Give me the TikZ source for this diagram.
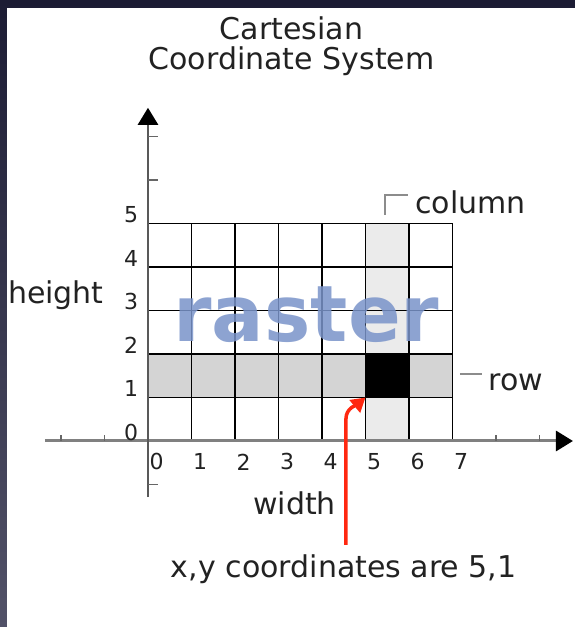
\documentclass[tikz,border=0pt]{standalone}
\usepackage{fontspec}
\setmainfont{DejaVu Sans}
\usetikzlibrary{arrows.meta}
\definecolor{navy}{RGB}{28,28,52}
\definecolor{navylow}{RGB}{82,82,104}
\definecolor{rastblue}{RGB}{122,148,202}
\definecolor{rowgray}{RGB}{212,212,212}
\definecolor{colgray}{RGB}{235,235,235}
\definecolor{ptred}{RGB}{255,40,16}
\definecolor{inkgray}{RGB}{34,34,34}

\begin{document}
\begin{tikzpicture}[x=43.5pt,y=43.5pt,
    lbl/.style={font=\fontsize{30}{36}\selectfont, text=inkgray, inner sep=0pt},
    num/.style={font=\fontsize{22}{26}\selectfont, text=inkgray, inner sep=0pt},
    gridline/.style={black, line width=1.4pt},
    tickmark/.style={black!60, line width=1.2pt},
    callout/.style={black!45, line width=1.2pt}]
    % Frame
    \useasboundingbox (-3.402,-4.276) rectangle (9.816,10.138);
    \shade[top color=navy, bottom color=navylow] (-3.402,-4.276) rectangle (9.816,10.138);
    \fill[white] (-3.241,-4.276) rectangle (9.816,9.954);

    % Title
    \node[lbl, anchor=base] (title1) at (3.3,9.22) {Cartesian};
    \node[lbl, anchor=base] (title2) at (3.3,8.53) {Coordinate System};

    % Raster cells
    \fill[rowgray] (0,1) rectangle (7,2);
    \fill[colgray] (5,0) rectangle (6,5);
    \fill[black] (5,1) rectangle (6,2);

    % Grid
    \foreach \i in {0,...,7} \draw[gridline] (\i,0) -- (\i,5);
    \foreach \j in {1,...,5} \draw[gridline] (0,\j) -- (7,\j);
    \node[font=\fontsize{78}{80}\selectfont\bfseries, text=rastblue, text opacity=0.85,
        anchor=base, inner sep=0pt] (raster) at (3.64,2.28) {raster};

    % Axes
    \draw[black!50, line width=3pt, -{Triangle[length=17pt,width=20pt,color=black]}] (-2.37,0) -- (9.77,0);
    \draw[black!65, line width=2.5pt, -{Triangle[length=17pt,width=20pt,color=black]}] (0,-1.29) -- (0,7.66);
    \foreach \i in {-2,-1,8,9} \draw[tickmark] (\i,0) -- ++(0,6pt);
    \foreach \j in {-1,6,7} \draw[tickmark] (0,\j) -- ++(10pt,0);

    % Axis numbers
    \foreach \k in {0,...,5} \node[num] (ylab\k) at (-0.39,\k+0.2) {\k};
    \foreach \k in {0,...,7} \node[num] (xlab\k) at (\k+0.2,-0.48) {\k};

    % Labels
    \node[lbl, anchor=base west] (height) at (-3.22,3.17) {height};
    \node[lbl, anchor=base] (width) at (3.37,-1.68) {width};
    \node[lbl, anchor=base west] (column) at (6.14,5.24) {column};
    \node[lbl, anchor=base west] (row) at (7.82,1.17) {row};
    \node[lbl, anchor=base] (caption) at (4.5,-3.13) {x,y coordinates are 5,1};

    % Callout marks
    \coordinate (colfoot) at (5.45,5.2);
    \coordinate (rowfoot) at (7.17,1.54);
    \draw[callout] (colfoot) |- ++(0.53,0.455);
    \draw[callout] (rowfoot) -- ++(0.51,0);

    % Red pointer to cell 5,1
    \coordinate (cell) at (5,1);
    \coordinate (foot) at (4.55,-2.39);
    \draw[ptred, line width=3.5pt, -{Triangle[length=14pt,width=16pt]}]
        (foot) -- (4.55,0.5) to[out=90,in=-140] (cell);
\end{tikzpicture}
\end{document}
